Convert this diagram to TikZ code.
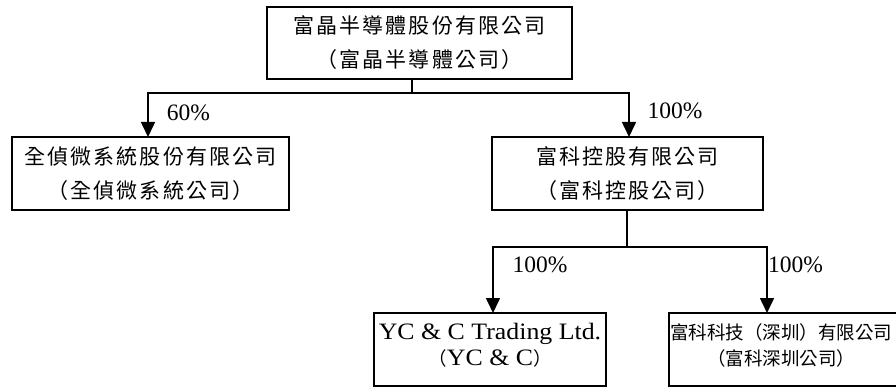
\documentclass[tikz,border=0pt]{standalone}
\usepackage{fontspec}
\setmainfont{Liberation Serif}
\newfontfamily\cjk{Noto Sans CJK TC}
\newfontfamily\cjkwide[LetterSpace=10]{Noto Sans CJK TC}
\newfontfamily\latinwide[FakeStretch=1.1]{Liberation Serif}
\usetikzlibrary{arrows.meta}
\tikzset{
  box/.style={draw, line width=1.6pt, inner sep=0pt, align=center},
  bigbox/.style={box, font=\cjkwide\fontsize{21}{34}\selectfont},
  smalltext/.style={inner sep=0pt, align=center, font=\fontsize{18.5}{26}\selectfont},
  conn/.style={line width=1.6pt},
  arr/.style={conn, -{Triangle[length=15pt,width=14pt]}},
  pct/.style={inner sep=0pt, font=\fontsize{23.5}{26}\selectfont}
}
\begin{document}
\begin{tikzpicture}[x=1pt,y=-1pt]
\useasboundingbox (0,0) rectangle (896,387);
\clip (0,0) rectangle (896,387);
% boxes
\node[bigbox, minimum width=305pt, minimum height=72pt] (top) at (419.5,43) {富晶半導體股份有限公司\\（富晶半導體公司）};
\node[bigbox, minimum width=277pt, minimum height=73pt] (left) at (150.5,173.5) {全偵微系統股份有限公司\\（全偵微系統公司）};
\node[bigbox, minimum width=271pt, minimum height=73pt] (mid) at (627.5,173.5) {富科控股有限公司\\（富科控股公司）};
\node[box, minimum width=232pt, minimum height=73pt] (bl) at (490,349.5) {};
\node[box, minimum width=241pt, minimum height=73pt] (br) at (789.5,349.5) {};
\node[smalltext] (bltext) at (490,345.5) {{\latinwide\fontsize{23.5}{26}\selectfont YC \& C Trading Ltd.}\\{\cjk （}{\latinwide\fontsize{23.5}{26}\selectfont YC \& C}{\cjk ）}};
\node[smalltext] (brtext) at (781,345.5) {{\cjk 富科科技（深圳）有限公司}\\{\cjk （富科深圳公司）}};
% junctions and arrow ends
\coordinate (j1) at (412,93);
\coordinate (a1) at (148,137);
\coordinate (a2) at (629,137);
\coordinate (j2) at (627,247);
\coordinate (a3) at (493,313);
\coordinate (a4) at (767,313);
% connectors
\draw[conn] (top.south -| j1) -- (j1);
\draw[arr] (j1) -| (a1);
\draw[arr] (j1) -| (a2);
\draw[conn] (mid.south -| j2) -- (j2);
\draw[arr] (j2) -| (a3);
\draw[arr] (j2) -| (a4);
% labels
\node[pct] (p1) at (188.5,113) {60\%};
\node[pct] (p2) at (675,110.5) {100\%};
\node[pct] (p3) at (540,265) {100\%};
\node[pct] (p4) at (795.5,265) {100\%};
\end{tikzpicture}
\end{document}
